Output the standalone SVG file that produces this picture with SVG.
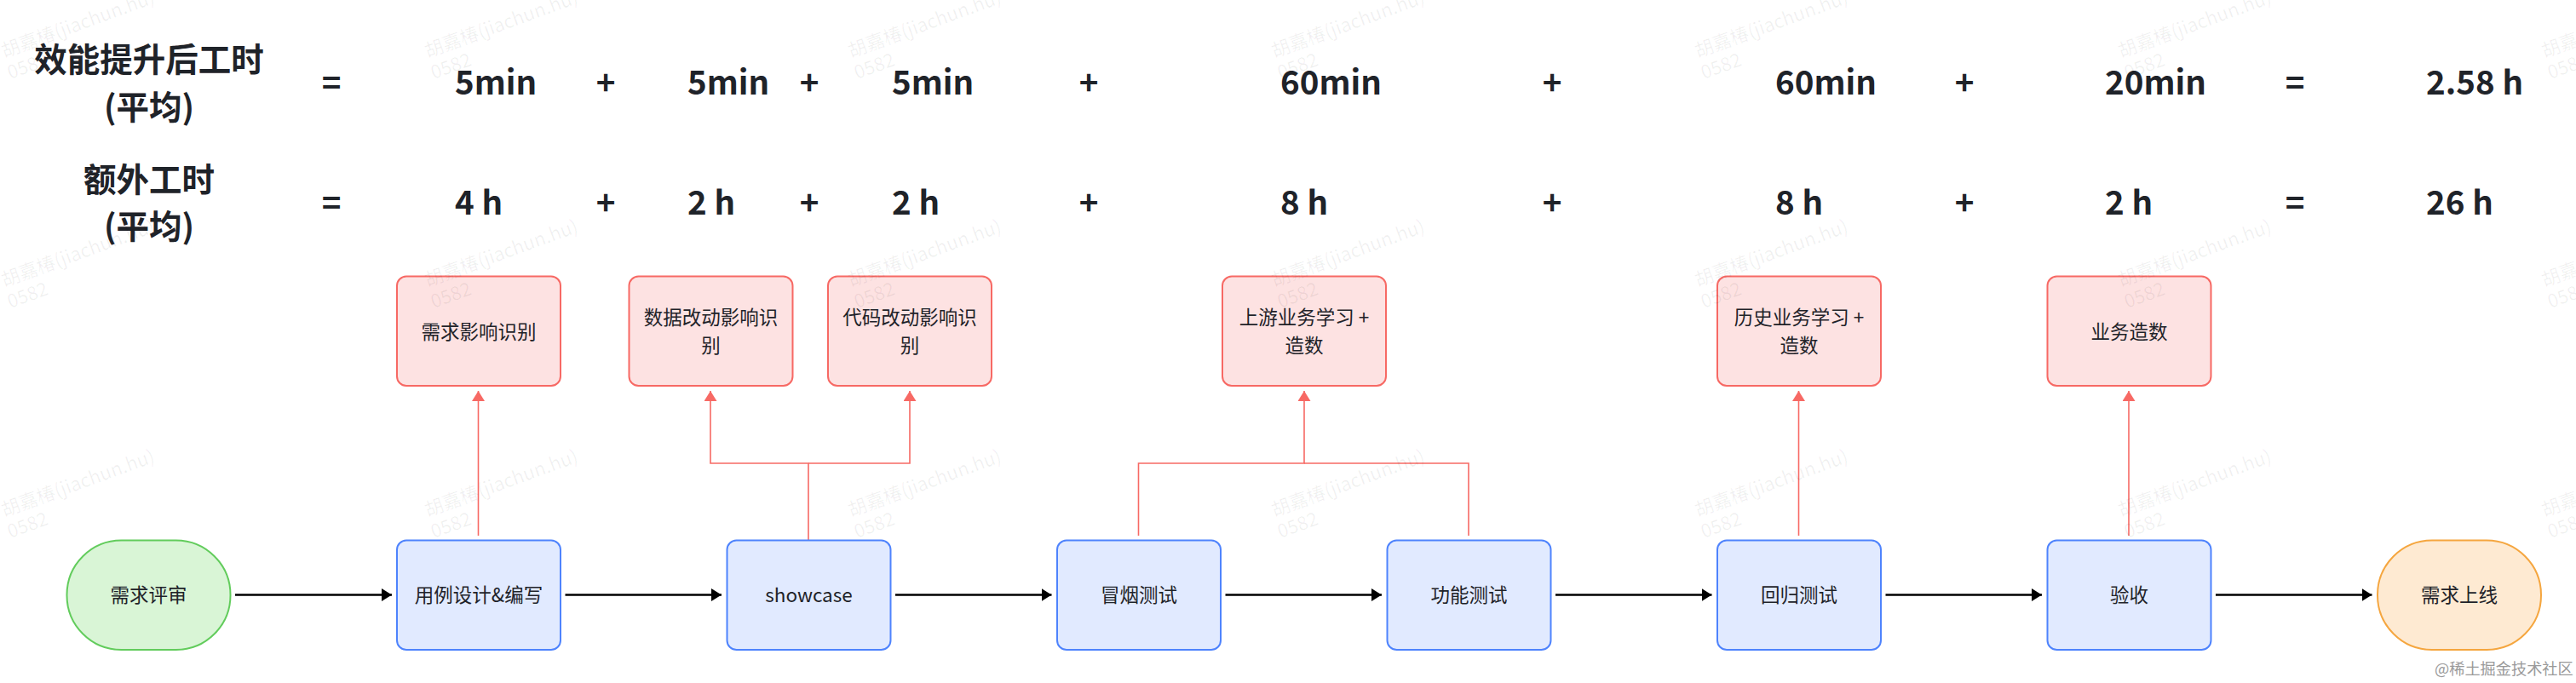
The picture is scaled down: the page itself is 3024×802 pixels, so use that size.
<svg xmlns="http://www.w3.org/2000/svg" xmlns:xlink="http://www.w3.org/1999/xlink" width="3024" height="802" viewBox="0 0 3024 802">
<style>
text{font-family:"Noto Sans CJK SC","Noto Sans",sans-serif;fill:#1f2329}
.f{font-size:38.5px;font-weight:700}
.c{text-anchor:middle}
.l{font-size:22.5px;text-anchor:middle}
.n{stroke-width:2}
.b{fill:#e1eaff;stroke:#4e83fd}
.r{fill:#fde2e2;stroke:#f76964}
.g{fill:#d9f5d6;stroke:#62cc5c}
.o{fill:#feead2;stroke:#f5a63f}
.k{fill:none;stroke:#000;stroke-width:2.4}
.p{fill:none;stroke:#f76964;stroke-width:1.6}
.wm{font-size:22px;fill:#000;fill-opacity:.06}
</style>
<defs>
<marker id="ak" markerUnits="userSpaceOnUse" markerWidth="13" markerHeight="16" refX="12" refY="7.5" orient="auto"><path d="M0 0L12 7.5L0 15Z" fill="#000"/></marker>
<marker id="ar" markerUnits="userSpaceOnUse" markerWidth="13" markerHeight="16" refX="12" refY="7.5" orient="auto"><path d="M0 0L12 7.5L0 15Z" fill="#f76964"/></marker>
<g id="w"><text class="wm" transform="rotate(-20)">胡嘉椿(jiachun.hu)</text><text class="wm" x="-2" y="26" transform="rotate(-20)">0582</text></g>
</defs>
<rect width="3024" height="802" fill="#fff"/>
<g id="formula">
<g class="f c"><text x="175" y="84">效能提升后工时</text><text x="175" y="140">(平均)</text><text x="175" y="225">额外工时</text><text x="175" y="280">(平均)</text></g>
<g class="f">
<text x="534" y="111">5min</text><text x="807" y="111">5min</text><text x="1047" y="111">5min</text><text x="1503" y="111">60min</text><text x="2084" y="111">60min</text><text x="2471" y="111">20min</text><text x="2848" y="111">2.58 h</text>
<text x="534" y="252">4 h</text><text x="807" y="252">2 h</text><text x="1047" y="252">2 h</text><text x="1503" y="252">8 h</text><text x="2084" y="252">8 h</text><text x="2471" y="252">2 h</text><text x="2848" y="252">26 h</text>
</g>
<g class="f c">
<text x="389" y="111">=</text><text x="711" y="111">+</text><text x="950" y="111">+</text><text x="1278" y="111">+</text><text x="1822" y="111">+</text><text x="2306" y="111">+</text><text x="2694" y="111">=</text>
<text x="389" y="252">=</text><text x="711" y="252">+</text><text x="950" y="252">+</text><text x="1278" y="252">+</text><text x="1822" y="252">+</text><text x="2306" y="252">+</text><text x="2694" y="252">=</text>
</g>
</g>
<g id="connectors">
<path class="k" marker-end="url(#ak)" d="M276 698.5H460"/>
<path class="k" marker-end="url(#ak)" d="M663.5 698.5H847"/>
<path class="k" marker-end="url(#ak)" d="M1051 698.5H1234.5"/>
<path class="k" marker-end="url(#ak)" d="M1438.5 698.5H1622"/>
<path class="k" marker-end="url(#ak)" d="M1826 698.5H2009.5"/>
<path class="k" marker-end="url(#ak)" d="M2213.5 698.5H2397"/>
<path class="k" marker-end="url(#ak)" d="M2601 698.5H2784.5"/>
<path class="p" marker-end="url(#ar)" d="M561.5 629V459"/>
<path class="p" marker-end="url(#ar)" d="M949 634V544H834V459"/>
<path class="p" marker-end="url(#ar)" d="M949 544H1068V459"/>
<path class="p" marker-end="url(#ar)" d="M1336.5 629V544H1531V459"/>
<path class="p" d="M1724 629V544H1531"/>
<path class="p" marker-end="url(#ar)" d="M2111.5 629V459"/>
<path class="p" marker-end="url(#ar)" d="M2499 629V459"/>
</g>
<g id="n-review"><rect class="n g" x="78.5" y="634.5" width="192" height="128.5" rx="64" ry="64"/><text class="l" x="174.5" y="707">需求评审</text></g>
<g id="n-design"><rect class="n b" x="466" y="634.5" width="192" height="128.5" rx="11"/><text class="l" x="562" y="707">用例设计&amp;编写</text></g>
<g id="n-showcase"><rect class="n b" x="853.5" y="634.5" width="192" height="128.5" rx="11"/><text class="l" x="949.5" y="707">showcase</text></g>
<g id="n-smoke"><rect class="n b" x="1241" y="634.5" width="192" height="128.5" rx="11"/><text class="l" x="1337" y="707">冒烟测试</text></g>
<g id="n-func"><rect class="n b" x="1628.5" y="634.5" width="192" height="128.5" rx="11"/><text class="l" x="1724.5" y="707">功能测试</text></g>
<g id="n-regress"><rect class="n b" x="2016" y="634.5" width="192" height="128.5" rx="11"/><text class="l" x="2112" y="707">回归测试</text></g>
<g id="n-accept"><rect class="n b" x="2403.5" y="634.5" width="192" height="128.5" rx="11"/><text class="l" x="2499.5" y="707">验收</text></g>
<g id="n-online"><rect class="n o" x="2791" y="634.5" width="192" height="128.5" rx="64" ry="64"/><text class="l" x="2887" y="707">需求上线</text></g>
<g id="r-req"><rect class="n r" x="466" y="324.5" width="192" height="128.5" rx="11"/><text class="l" x="562" y="398">需求影响识别</text></g>
<g id="r-data"><rect class="n r" x="738.5" y="324.5" width="192" height="128.5" rx="11"/><text class="l" x="834.5" y="381">数据改动影响识</text><text class="l" x="834.5" y="414">别</text></g>
<g id="r-code"><rect class="n r" x="972" y="324.5" width="192" height="128.5" rx="11"/><text class="l" x="1068" y="381">代码改动影响识</text><text class="l" x="1068" y="414">别</text></g>
<g id="r-up"><rect class="n r" x="1435" y="324.5" width="192" height="128.5" rx="11"/><text class="l" x="1531" y="381">上游业务学习 +</text><text class="l" x="1531" y="414">造数</text></g>
<g id="r-hist"><rect class="n r" x="2016" y="324.5" width="192" height="128.5" rx="11"/><text class="l" x="2112" y="381">历史业务学习 +</text><text class="l" x="2112" y="414">造数</text></g>
<g id="r-biz"><rect class="n r" x="2403.5" y="324.5" width="192" height="128.5" rx="11"/><text class="l" x="2499.5" y="398">业务造数</text></g>
<g id="watermark">
<use href="#w" x="5" y="68"/><use href="#w" x="502" y="68"/><use href="#w" x="999" y="68"/><use href="#w" x="1496" y="68"/><use href="#w" x="1993" y="68"/><use href="#w" x="2490" y="68"/><use href="#w" x="2987" y="68"/>
<use href="#w" x="5" y="337"/><use href="#w" x="502" y="337"/><use href="#w" x="999" y="337"/><use href="#w" x="1496" y="337"/><use href="#w" x="1993" y="337"/><use href="#w" x="2490" y="337"/><use href="#w" x="2987" y="337"/>
<use href="#w" x="5" y="607"/><use href="#w" x="502" y="607"/><use href="#w" x="999" y="607"/><use href="#w" x="1496" y="607"/><use href="#w" x="1993" y="607"/><use href="#w" x="2490" y="607"/><use href="#w" x="2987" y="607"/>
</g>
<text x="2858" y="792" font-size="18.2" style="fill:#9a9a9a">@稀土掘金技术社区</text>
</svg>
